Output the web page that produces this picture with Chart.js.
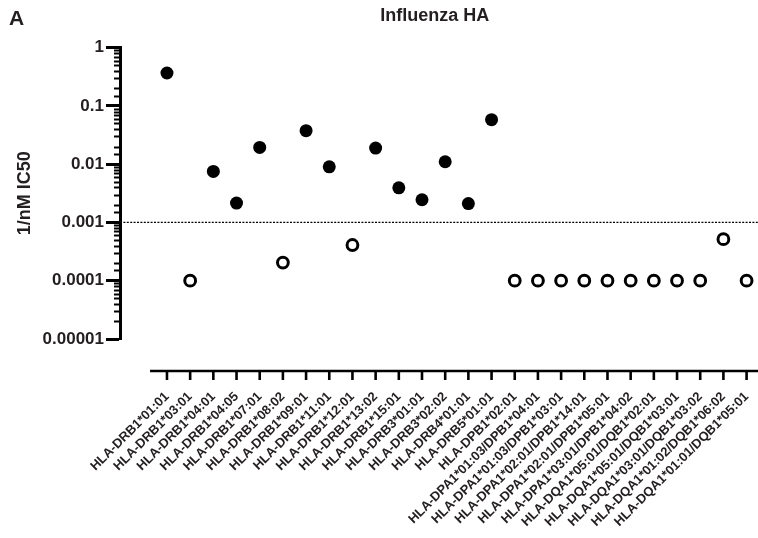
<!DOCTYPE html>
<html>
<head>
<meta charset="utf-8">
<script src="https://cdn.jsdelivr.net/npm/chart.js@4/dist/chart.umd.min.js"></script>
<style>
  html,body{margin:0;padding:0;background:#fff;}
  #wrap{width:758px;height:538px;}
</style>
</head>
<body>
<div id="wrap"><canvas id="chHA" width="758" height="538"></canvas></div>
<script>
// ===== data =====
const categories=[
  'HLA-DRB1*01:01','HLA-DRB1*03:01','HLA-DRB1*04:01','HLA-DRB1*04:05','HLA-DRB1*07:01',
  'HLA-DRB1*08:02','HLA-DRB1*09:01','HLA-DRB1*11:01','HLA-DRB1*12:01','HLA-DRB1*13:02',
  'HLA-DRB1*15:01','HLA-DRB3*01:01','HLA-DRB3*02:02','HLA-DRB4*01:01','HLA-DRB5*01:01',
  'HLA-DPB1*02:01','HLA-DPA1*01:03/DPB1*04:01','HLA-DPA1*01:03/DPB1*03:01',
  'HLA-DPA1*02:01/DPB1*14:01','HLA-DPA1*02:01/DPB1*05:01','HLA-DPA1*03:01/DPB1*04:02',
  'HLA-DQA1*05:01/DQB1*02:01','HLA-DQA1*05:01/DQB1*03:01','HLA-DQA1*03:01/DQB1*03:02',
  'HLA-DQA1*01:02/DQB1*06:02','HLA-DQA1*01:01/DQB1*05:01'
];
const ic50Values=[
  0.367,0.0001,0.0075,0.00215,0.0194,
  0.000205,0.0375,0.009,0.00041,0.0189,
  0.00393,0.00245,0.011,0.00211,0.058,
  0.0001,0.0001,0.0001,0.0001,0.0001,0.0001,
  0.0001,0.0001,0.0001,0.000516,0.0001
];
const yTickValues=[1,0.1,0.01,0.001,0.0001,0.00001];
const cutoff=0.001;

// ===== style =====
const INK='#000';
const TXT='#231f20';
const FONT='"Liberation Sans", Arial, Helvetica, sans-serif';
const isDecade=v=>yTickValues.some(t=>Math.abs(Math.log10(v)-Math.log10(t))<1e-6);
const fmtDecade=v=>{ const e=Math.round(Math.log10(v)); return e>=0?'1':v.toFixed(-e); };
const binds=v=>v>=cutoff;

// axes drawn Prism-style (offset x axis, minor log ticks, cutoff line, panel letter)
const prismAxes={
  id:'prismAxes',
  beforeDatasetsDraw(chart){
    const {ctx,chartArea:a,scales:{x,y}}=chart;
    ctx.save();
    // minor y ticks
    ctx.strokeStyle=INK; ctx.lineWidth=2;
    for(const t of y.ticks){
      if(isDecade(t.value)) continue;
      const py=Math.round(y.getPixelForValue(t.value))+0.5;
      ctx.beginPath(); ctx.moveTo(a.left-6,py); ctx.lineTo(a.left,py); ctx.stroke();
    }
    // cutoff dashed line
    const cy=y.getPixelForValue(cutoff);
    ctx.lineWidth=1.3; ctx.setLineDash([2,1.4]);
    ctx.beginPath(); ctx.moveTo(a.left,cy); ctx.lineTo(chart.width,cy); ctx.stroke();
    ctx.setLineDash([]);
    // x axis (offset below plot)
    const ax=a.bottom+32;
    ctx.lineWidth=2.6;
    ctx.beginPath(); ctx.moveTo(x.getPixelForValue(-0.73),ax); ctx.lineTo(chart.width,ax); ctx.stroke();
    categories.forEach((c,i)=>{
      const px=x.getPixelForValue(i);
      ctx.beginPath(); ctx.moveTo(px,ax); ctx.lineTo(px,ax+9); ctx.stroke();
    });
    // panel letter
    ctx.fillStyle=TXT; ctx.font='bold 21px '+FONT; ctx.textBaseline='alphabetic'; ctx.textAlign='left';
    ctx.fillText('A',9,25);
    ctx.restore();
  }
};

new Chart(document.getElementById('chHA'),{
  type:'scatter',
  data:{ datasets:[{
    label:'Influenza HA',
    data:ic50Values.map((v,i)=>({x:i,y:v})),
    pointRadius:c=>binds(c.raw.y)?6.5:5.4,
    pointHoverRadius:c=>binds(c.raw.y)?6.5:5.4,
    pointBorderWidth:c=>binds(c.raw.y)?0:3,
    pointBackgroundColor:c=>binds(c.raw.y)?INK:'#fff',
    pointBorderColor:INK,
    showLine:false,
    clip:false
  }]},
  options:{
    responsive:false, animation:false, devicePixelRatio:1,
    layout:{padding:{left:0,right:8,top:0,bottom:0}},
    plugins:{
      legend:{display:false}, tooltip:{enabled:false},
      title:{display:true,text:'Influenza HA',fullSize:false,color:TXT,
        font:{family:FONT,size:18,weight:'bold'},padding:{top:5,bottom:21}}
    },
    scales:{
      x:{
        type:'linear', min:-2.026, max:25.13,
        afterBuildTicks:s=>{ s.ticks=categories.map((c,i)=>({value:i})); },
        afterFit:s=>{ s.height=199; s.paddingLeft=0; s.paddingRight=0; },
        ticks:{autoSkip:false,maxRotation:45,minRotation:45,padding:50,color:TXT,
          font:{family:FONT,size:13,weight:'bold'},
          callback:v=>categories[v]},
        grid:{display:false,drawTicks:false},
        border:{display:false}
      },
      y:{
        type:'logarithmic', min:0.00001, max:1,
        afterFit:s=>{ s.width=120; },
        ticks:{autoSkip:false,padding:2,color:TXT,
          font:{family:FONT,size:17,weight:'bold'},
          callback:v=>isDecade(v)?fmtDecade(v):''},
        grid:{display:true,drawOnChartArea:false,drawTicks:true,tickLength:14,tickWidth:3,
          tickColor:c=>isDecade(c.tick.value)?INK:'rgba(0,0,0,0)'},
        border:{display:true,width:3,color:INK},
        title:{display:true,text:'1/nM IC50',color:TXT,
          font:{family:FONT,size:18,weight:'bold'},padding:{top:14,bottom:0}}
      }
    }
  },
  plugins:[prismAxes]
});
</script>
</body>
</html>
